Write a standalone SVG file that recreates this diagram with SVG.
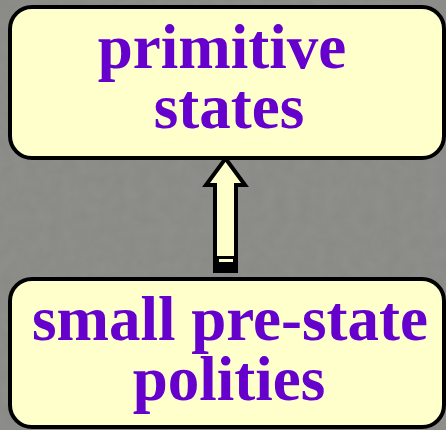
<svg xmlns="http://www.w3.org/2000/svg" width="446" height="430" viewBox="0 0 446 430">
  <defs>
    <filter id="grain" x="0" y="0" width="100%" height="100%">
      <feTurbulence type="fractalNoise" baseFrequency="0.08" numOctaves="3" seed="4" result="n"/>
      <feColorMatrix in="n" type="matrix" values="0 0 0 0 0.5  0 0 0 0 0.5  0 0 0 0 0.48  0 0 0 0.14 0"/>
    </filter>
  </defs>
  <style>
    .box { fill: #FFFFCC; stroke: #000000; stroke-width: 4; }
    .lbl { font-family: "Liberation Serif", "Times New Roman", serif; font-weight: bold; font-size: 63px; fill: #6600CC; text-anchor: middle; }
    .arrow { fill: #FFFFCC; stroke: #000000; stroke-width: 4; stroke-linejoin: miter; }
  </style>
  <rect x="0" y="0" width="446" height="430" fill="#888884"/>
  <rect x="0" y="0" width="446" height="430" filter="url(#grain)"/>

  <g id="connectors">
    <path class="arrow" d="M225.5,158.5 L245,185 L236,185 L236,271 L215,271 L215,185 L206,185 Z"/>
    <rect x="215" y="256" width="21" height="17" fill="#000000"/>
    <rect x="219" y="259" width="14" height="3" fill="#FFFFCC"/>
  </g>

  <g id="node-primitive-states">
    <rect class="box" x="10" y="7" width="434" height="151" rx="22" ry="22"/>
    <text class="lbl"><tspan x="222" y="68">primitive</tspan><tspan x="229" y="128">states</tspan></text>
  </g>

  <g id="node-small-pre-state-polities">
    <rect class="box" x="10" y="279" width="434" height="148" rx="22" ry="22"/>
    <text class="lbl"><tspan x="230" y="340">small pre-state</tspan><tspan x="229" y="400">polities</tspan></text>
  </g>
</svg>
